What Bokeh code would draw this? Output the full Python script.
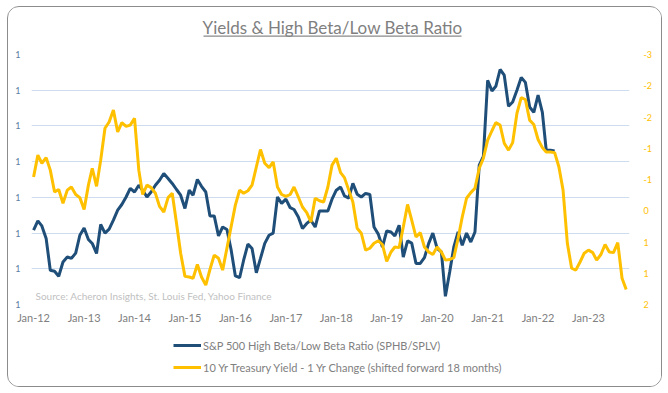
import pandas as pd
from datetime import datetime
from bokeh.plotting import figure
from bokeh.layouts import column
from bokeh.models import (Range1d, LinearAxis, FixedTicker, Legend, LegendItem,
                          Label, BoxAnnotation)
from bokeh.embed import file_html
from bokeh.resources import INLINE

# ---------------- data ----------------
first_month = "2012-01-01"

# S&P 500 High Beta / Low Beta ratio (SPHB/SPLV), monthly from Jan-2012
ratio = [
    0.808, 0.834, 0.820, 0.785, 0.696, 0.693, 0.679, 0.719, 0.733, 0.729, 0.744, 0.794,
    0.814, 0.782, 0.771, 0.743, 0.824, 0.800, 0.811, 0.836, 0.864, 0.880, 0.901, 0.925,
    0.915, 0.934, 0.920, 0.901, 0.915, 0.934, 0.948, 0.967, 0.953, 0.939, 0.922, 0.906,
    0.869, 0.920, 0.906, 0.950, 0.931, 0.915, 0.848, 0.848, 0.792, 0.817, 0.810, 0.754,
    0.680, 0.675, 0.724, 0.769, 0.757, 0.689, 0.729, 0.771, 0.794, 0.800, 0.901, 0.883,
    0.895, 0.871, 0.866, 0.845, 0.813, 0.827, 0.836, 0.817, 0.862, 0.862, 0.862, 0.895,
    0.920, 0.929, 0.904, 0.898, 0.939, 0.909, 0.901, 0.911, 0.908, 0.817, 0.797, 0.761,
    0.806, 0.803, 0.792, 0.822, 0.733, 0.778, 0.772, 0.715, 0.715, 0.731, 0.771, 0.800,
    0.757, 0.747, 0.623, 0.691, 0.761, 0.803, 0.766, 0.800, 0.775, 0.803, 0.990, 1.015,
    1.228, 1.198, 1.211, 1.258, 1.242, 1.155, 1.167, 1.200, 1.236, 1.222, 1.153, 1.138,
    1.186, 1.138, 1.032, 1.032, 1.030,
]

# 10 Yr Treasury yield, 1 yr change (shifted forward 18 months), monthly from Jan-2012
yield_chg = [
    -0.54, -0.89, -0.76, -0.85, -0.65, -0.30, -0.34, -0.12, -0.33, -0.38, -0.26, -0.21,
    -0.02, -0.41, -0.68, -0.39, -0.81, -1.32, -1.42, -1.61, -1.26, -1.41, -1.35, -1.37,
    -1.48, -0.65, -0.26, -0.41, -0.37, -0.28, -0.07, 0.02, -0.21, -0.28, 0.20, 0.68,
    1.05, 1.06, 1.08, 0.86, 1.06, 1.19, 0.94, 0.71, 0.76, 0.95, 0.60, 0.26,
    -0.09, -0.33, -0.28, -0.32, -0.41, -0.70, -0.98, -0.76, -0.69, -0.78, -0.38, -0.26,
    -0.23, -0.26, -0.38, -0.22, -0.06, 0.03, 0.18, -0.20, -0.16, -0.14, -0.38, -0.73,
    -0.84, -0.61, -0.53, -0.33, -0.14, 0.28, 0.36, 0.63, 0.60, 0.52, 0.48, 0.54,
    0.81, 0.66, 0.58, 0.59, 0.26, -0.10, 0.15, 0.42, 0.35, 0.58, 0.66, 0.70,
    0.58, 0.66, 0.79, 0.78, 0.75, 0.44, 0.10, -0.20, -0.29, -0.36, -0.68, -0.84,
    -1.13, -1.28, -1.41, -1.37, -1.08, -0.97, -1.09, -1.56, -1.81, -1.78, -1.45, -1.38,
    -1.14, -1.01, -0.94, -0.94, -0.93, -0.70, -0.33, 0.52, 0.92, 0.95, 0.82, 0.68,
    0.63, 0.67, 0.79, 0.70, 0.54, 0.66, 0.67, 0.51, 1.08, 1.26,
]

x_tick_years = list(range(2012, 2024))
x_tick_labels = ["Jan-12", "Jan-13", "Jan-14", "Jan-15", "Jan-16", "Jan-17",
                 "Jan-18", "Jan-19", "Jan-20", "Jan-21", "Jan-22", "Jan-23"]
left_ticks = [0.6, 0.7, 0.8, 0.9, 1.0, 1.1, 1.2, 1.3]
left_tick_labels = ["1", "1", "1", "1", "1", "1", "1", "1"]
right_ticks = [-2.5, -2.0, -1.5, -1.0, -0.5, 0.0, 0.5, 1.0, 1.5]
right_tick_labels = ["-3", "-2", "-2", "-1", "-1", "0", "1", "1", "2"]

title_text = "Yields & High Beta/Low Beta Ratio"
source_text = "Source: Acheron Insights, St. Louis Fed, Yahoo Finance"
label_ratio = "S&P 500 High Beta/Low Beta Ratio (SPHB/SPLV)"
label_yield = "10 Yr Treasury Yield - 1 Yr Change (shifted forward 18 months)"

dates_ratio = pd.date_range(first_month, periods=len(ratio), freq="MS")
dates_yield = pd.date_range(first_month, periods=len(yield_chg), freq="MS")

# ---------------- styling constants ----------------
FONT = "Lato"
GRAY = "#808080"
BLUE = "#1f4e79"
GOLD = "#ffc000"
W = 653


def strip(height, **kw):
    fig = figure(width=W, height=height, min_border=0, output_backend="svg",
                 toolbar_location=None, x_axis_location=None,
                 y_axis_location=None, **kw)
    fig.grid.visible = False
    fig.outline_line_color = None
    fig.background_fill_color = "white"
    fig.border_fill_color = "white"
    return fig


# ---------------- header (title + underline) ----------------
header = strip(40, x_range=Range1d(0, 1), y_range=Range1d(0, 1))
header.add_layout(Label(x=301, y=20, x_units="screen", y_units="screen",
                        text=title_text, text_align="center",
                        text_baseline="middle", text_font=FONT,
                        text_font_size="17px", text_color="#7f7f7f"))
header.add_layout(BoxAnnotation(left=172, right=430, bottom=10.8, top=12,
                                left_units="screen", right_units="screen",
                                bottom_units="screen", top_units="screen",
                                fill_color="#8a8a8a", fill_alpha=1.0,
                                line_color=None))

# ---------------- main chart ----------------
x_span = Range1d(datetime(2011, 12, 17), datetime(2023, 10, 25))
p = figure(frame_width=598, frame_height=250, x_axis_type="datetime",
           output_backend="svg", toolbar_location=None,
           x_range=x_span, y_range=Range1d(0.6, 1.3),
           min_border_left=23, min_border_right=32,
           min_border_top=7, min_border_bottom=26)
p.outline_line_color = None
p.background_fill_color = "white"
p.border_fill_color = "white"

p.extra_y_ranges = {"chg": Range1d(start=1.5, end=-2.5)}

p.xgrid.grid_line_color = None
p.ygrid.grid_line_color = "#cddcee"
p.ygrid.grid_line_width = 1

xticks = [pd.Timestamp(f"{y}-01-01").value // 10**6 for y in x_tick_years]
p.xaxis.ticker = FixedTicker(ticks=xticks)
p.xaxis.major_label_overrides = dict(zip(xticks, x_tick_labels))
p.xaxis.axis_line_color = None
p.xaxis.major_tick_line_color = None
p.xaxis.major_tick_out = 0
p.xaxis.minor_tick_line_color = None
p.xaxis.major_label_text_color = GRAY
p.xaxis.major_label_text_font = FONT
p.xaxis.major_label_text_font_size = "11px"
p.xaxis.major_label_standoff = 6

p.yaxis.ticker = FixedTicker(ticks=left_ticks)
p.yaxis.major_label_overrides = dict(zip(left_ticks, left_tick_labels))
p.yaxis.axis_line_color = None
p.yaxis.major_tick_line_color = None
p.yaxis.major_tick_out = 0
p.yaxis.minor_tick_line_color = None
p.yaxis.major_label_text_color = "#5a7ea3"
p.yaxis.major_label_text_font = FONT
p.yaxis.major_label_text_font_size = "9px"
p.yaxis.major_label_standoff = 11

raxis = LinearAxis(y_range_name="chg", ticker=FixedTicker(ticks=right_ticks),
                   major_label_overrides=dict(zip(right_ticks, right_tick_labels)))
raxis.axis_line_color = None
raxis.major_tick_line_color = None
raxis.major_tick_out = 0
raxis.minor_tick_line_color = None
raxis.major_label_text_color = GOLD
raxis.major_label_text_font = FONT
raxis.major_label_text_font_size = "9px"
raxis.major_label_standoff = 14
p.add_layout(raxis, "right")

r_ratio = p.line(dates_ratio, ratio, line_color=BLUE, line_width=3)
r_yield = p.line(dates_yield, yield_chg, y_range_name="chg",
                 line_color=GOLD, line_width=3)

p.add_layout(Label(x=4, y=3, x_units="screen", y_units="screen",
                   text=source_text, text_font=FONT, text_font_size="10px",
                   text_color="#bfbfbf"))

# ---------------- legend strip ----------------
# the same two series, drawn out of this strip's view so only their keys show
leg = strip(56, x_range=x_span, y_range=Range1d(10, 11))
leg.extra_y_ranges = {"chg": Range1d(10, 11)}
k_ratio = leg.line(dates_ratio, ratio, line_color=BLUE, line_width=3)
k_yield = leg.line(dates_yield, yield_chg, y_range_name="chg",
                   line_color=GOLD, line_width=3)
legend = Legend(items=[LegendItem(label=label_ratio, renderers=[k_ratio]),
                       LegendItem(label=label_yield, renderers=[k_yield])],
                orientation="vertical", location=(142, 12),
                border_line_color=None, background_fill_alpha=0,
                label_text_color=GRAY, label_text_font=FONT,
                label_text_font_size="11px", glyph_width=28, glyph_height=14,
                label_height=14, spacing=8, padding=4, margin=0,
                label_standoff=2)
leg.add_layout(legend, "center")

layout = column(header, p, leg, spacing=0)
layout.styles = {"border": "1px solid #8c8c8c", "border-radius": "12px",
                 "margin": "6px 0 0 7px", "overflow": "hidden",
                 "width": "fit-content"}

open("out.html", "w").write(file_html(layout, INLINE))
